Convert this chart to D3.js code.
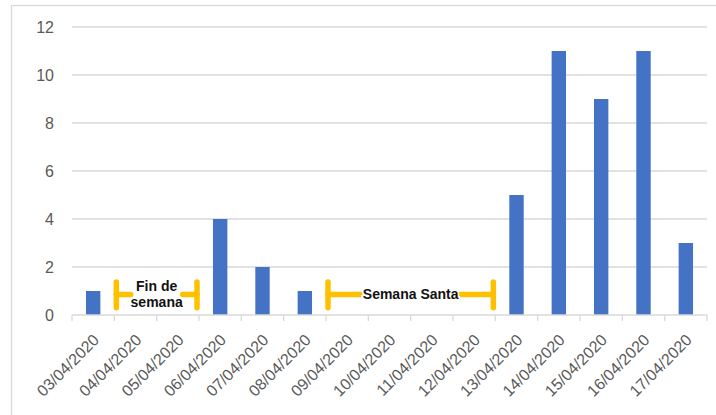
<!DOCTYPE html>
<html>
<head>
<meta charset="utf-8">
<script src="https://cdn.jsdelivr.net/npm/d3@7"></script>
<style>
  body { margin: 0; background: #fff; }
  svg { display: block; font-family: "Liberation Sans", Arial, sans-serif; }
  .grid line { stroke: #d9d9d9; stroke-width: 1.3; }
  .axis text { fill: #595959; font-size: 16px; }
  .axis path, .axis line { stroke: #d9d9d9; stroke-width: 1.3; }
  .note { fill: #111; font-size: 14px; font-weight: bold; stroke: #fff; stroke-width: 3px; paint-order: stroke; }
  .bracket { stroke: #ffc000; stroke-width: 5.5; stroke-linecap: round; fill: none; }
</style>
</head>
<body>
<div id="chart"></div>
<script>
"use strict";

var dates = ["03/04/2020", "04/04/2020", "05/04/2020", "06/04/2020", "07/04/2020",
  "08/04/2020", "09/04/2020", "10/04/2020", "11/04/2020", "12/04/2020",
  "13/04/2020", "14/04/2020", "15/04/2020", "16/04/2020", "17/04/2020"];
var counts = [1, 0, 0, 4, 2, 1, 0, 0, 0, 0, 5, 11, 9, 11, 3];
var yTicks = [0, 2, 4, 6, 8, 10, 12];

// labelled periods: first and last day covered by the bracket
var periodLabels = [["Fin de", "semana"], ["Semana Santa"]];
var periodFrom = ["04/04/2020", "09/04/2020"];
var periodTo = ["05/04/2020", "12/04/2020"];

var width = 716, height = 415;
var margin = { top: 27, right: 9, bottom: 100, left: 72 };
var w = width - margin.left - margin.right;
var h = height - margin.top - margin.bottom;

var svg = d3.select("#chart").append("svg")
  .attr("width", width)
  .attr("height", height);

// chart frame
svg.append("rect")
  .attr("x", 11.5).attr("y", 5.5)
  .attr("width", width).attr("height", height)
  .attr("fill", "none")
  .attr("stroke", "#d9d9d9")
  .attr("stroke-width", 1.3);

var g = svg.append("g")
  .attr("transform", "translate(" + margin.left + "," + margin.top + ")");

var x = d3.scaleBand().domain(dates).range([0, w]).paddingInner(0.66).paddingOuter(0.33);
var y = d3.scaleLinear().domain([0, 12]).range([h, 0]);

var step = x.step();
function bandStart(d) { return x(d) - step * x.paddingInner() / 2; }
function bandEnd(d) { return bandStart(d) + step; }

g.append("g")
  .attr("class", "grid")
  .selectAll("line")
  .data(yTicks.slice(1))
  .enter().append("line")
    .attr("x1", 0).attr("x2", w)
    .attr("y1", function(d) { return y(d); })
    .attr("y2", function(d) { return y(d); });

var yAxis = d3.axisLeft(y).tickValues(yTicks).tickSize(0).tickPadding(18);
g.append("g")
  .attr("class", "axis y")
  .call(yAxis)
  .call(function(s) { s.select(".domain").remove(); });

g.selectAll(".bar")
  .data(counts)
  .enter().append("rect")
    .attr("class", "bar")
    .attr("x", function(d, i) { return x(dates[i]); })
    .attr("width", x.bandwidth())
    .attr("y", function(d) { return y(d); })
    .attr("height", function(d) { return h - y(d); })
    .attr("fill", "#4472c4");

// x axis: baseline, ticks between categories, rotated labels
var xa = g.append("g")
  .attr("class", "axis x")
  .attr("transform", "translate(0," + h + ")");

xa.append("line").attr("x1", 0).attr("x2", w);

xa.selectAll(".tk")
  .data(dates.concat(["end"]))
  .enter().append("line")
    .attr("class", "tk")
    .attr("x1", function(d, i) { return i < dates.length ? bandStart(d) : w; })
    .attr("x2", function(d, i) { return i < dates.length ? bandStart(d) : w; })
    .attr("y1", 0).attr("y2", 6);

xa.selectAll("text")
  .data(dates)
  .enter().append("text")
    .attr("text-anchor", "end")
    .attr("dominant-baseline", "middle")
    .attr("transform", function(d) {
      return "translate(" + (x(d) + x.bandwidth() / 2 + 4) + ",23) rotate(-45)";
    })
    .text(function(d) { return d; });

// period brackets
var yMid = 0.85, yLo = 0.3, yHi = 1.38;
periodLabels.forEach(function(lines, k) {
  var x0 = bandStart(periodFrom[k]) + 2;
  var x1 = bandEnd(periodTo[k]) - 2;
  var cx = (x0 + x1) / 2;
  var nb = g.append("g");
  var halfText = lines.length > 1 ? 26 : 50;

  nb.append("line").attr("class", "bracket")
    .attr("x1", x0).attr("x2", x0).attr("y1", y(yLo)).attr("y2", y(yHi));
  nb.append("line").attr("class", "bracket")
    .attr("x1", x1).attr("x2", x1).attr("y1", y(yLo)).attr("y2", y(yHi));
  nb.append("line").attr("class", "bracket")
    .attr("x1", x0).attr("x2", cx - halfText).attr("y1", y(yMid)).attr("y2", y(yMid));
  nb.append("line").attr("class", "bracket")
    .attr("x1", cx + halfText).attr("x2", x1).attr("y1", y(yMid)).attr("y2", y(yMid));

  var t = nb.append("text")
    .attr("class", "note")
    .attr("text-anchor", "middle")
    .attr("x", cx)
    .attr("y", y(yMid) - (lines.length - 1) * 8)
    .attr("dominant-baseline", "middle");
  lines.forEach(function(line, j) {
    t.append("tspan").attr("x", cx).attr("dy", j === 0 ? 0 : 16).text(line);
  });
});
</script>
</body>
</html>
